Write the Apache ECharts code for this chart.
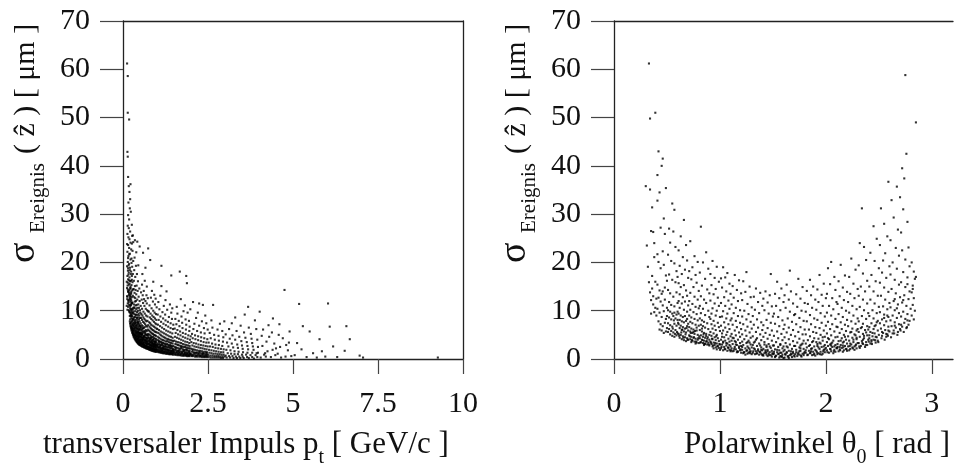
<!DOCTYPE html>
<html><head><meta charset="utf-8">
<script src="https://cdn.jsdelivr.net/npm/echarts@6/dist/echarts.min.js"></script>
<style>html,body{margin:0;padding:0;background:#fff}#c{width:954px;height:469px}</style>
</head><body><div id="c"></div>
<script>
// ---------- tick values ----------
const sigmaTicks = [0,10,20,30,40,50,60,70];
const ptTicks = [0,2.5,5,7.5,10];
const thetaTicks = [0,1,2,3];

// ---------- left panel: [pt (GeV/c), sigma (um)] ----------
const ptSigmaSteep = [
[0.12,61.2],[0.14,58.6],[0.14,51.0],[0.18,49.6],[0.13,42.9],[0.14,41.9],[0.15,37.7],[0.22,36.2],[0.19,34.6],[0.17,35.8],[0.21,33.1],[0.16,32.4],[0.2,31.2],[0.15,29.8],[0.18,28.9],[0.23,30.5],[0.14,27.6],[0.17,27.1],[0.21,26.4],[0.26,27.8],[0.13,25.9],[0.16,25.2],[0.19,24.8],[0.22,24.1],[0.27,25.5],[0.15,23.6],[0.18,23.0],[0.24,22.7],[0.13,22.2],[0.2,21.8],[0.16,21.3],[0.22,20.6],[0.14,20.1],[0.18,19.7],[0.25,19.9],[0.12,19.2],[0.15,18.8],[0.2,18.4],[0.17,17.9],[0.23,17.6],[0.13,17.2],[0.19,16.9],[0.15,16.5],[0.21,16.1],[0.26,16.4],[0.14,15.8],[0.17,15.4],[0.22,15.0],[0.12,14.7],[0.19,14.3],[0.15,13.9],[0.24,13.6],[0.17,13.2],[0.13,12.9],[0.2,12.6],[0.16,12.2],[0.22,11.9],[0.14,11.5],[0.18,11.2],[0.25,11.4],[0.15,10.8],[0.21,10.5],[0.17,10.1],[0.19,9.7],[0.23,9.4],[0.16,12.0],[0.18,13.5],[0.11,16.0],[0.12,13.0],[0.11,11.0],[0.13,10.2],[0.14,14.4],[0.16,17.5],[0.12,23.8],[0.15,20.9],
[0.21,8.2],[0.22,6.9],[0.23,7.5],[0.24,6.3],[0.25,5.9],[0.26,6.6],[0.27,5.5],[0.28,5.8],[0.29,5.1],[0.21,9.6],[0.23,8.8],[0.25,7.7],[0.27,7.1],[0.29,6.4],[0.22,11.2],[0.24,10.1],[0.26,9.2],[0.28,8.3],[0.3,7.4],[0.21,13.1],[0.23,12.4],[0.25,11.6],[0.27,10.4],[0.29,9.5],[0.22,14.6],[0.24,13.9],[0.26,12.8],[0.28,11.7],[0.3,10.6],[0.23,16.2],[0.25,15.3],[0.27,14.2],[0.29,13.1],[0.24,18.1],[0.26,17.2],[0.28,15.9],[0.3,14.4],[0.25,20.8],[0.27,19.1],[0.29,17.6],[0.28,22.4],[0.3,20.3],[0.26,23.9],[0.29,25.6],[0.3,24.2],
[0.2,7.8],[0.22,7.2],[0.24,6.8],[0.25,6.4],[0.26,6.1],[0.28,5.4],[0.3,5.0],[0.2,8.9],[0.21,7.4],[0.23,6.6],[0.27,6.2],[0.29,5.7],[0.3,6.0],
[0.155,14.1],[0.165,11.7],[0.175,16.3],[0.185,9.9],[0.195,12.3],[0.205,10.9],[0.215,14.7],[0.225,9.1],[0.235,11.1],[0.245,8.4],[0.255,9.8],[0.265,7.9],[0.275,8.8],[0.285,7.2],[0.295,8.1],[0.145,18.3],[0.135,15.2],[0.125,12.4],[0.165,19.4],[0.175,13.8],[0.185,21.7],[0.195,15.6],[0.205,18.9],[0.215,12.9],[0.225,13.4],[0.235,10.3],[0.245,12.1],[0.255,8.9],[0.265,11.6],[0.275,9.6],[0.285,10.2],[0.295,6.9]
];
const ptSigmaLow = [
[0.31,4.7],[0.32,4.5],[0.33,4.9],[0.34,4.3],[0.35,4.1],[0.36,4.4],[0.37,3.9],[0.38,3.8],[0.39,4.0],[0.4,3.6],[0.41,3.5],[0.42,3.7],[0.43,3.3],[0.44,3.4],[0.45,3.2],[0.46,3.1],[0.47,3.3],[0.48,3.0],[0.49,2.9],[0.5,3.0],
[0.31,5.4],[0.33,5.8],[0.35,5.0],[0.37,4.8],[0.39,4.6],[0.41,4.2],[0.43,4.1],[0.45,3.9],[0.47,3.8],[0.49,3.6],
[0.32,6.3],[0.34,6.7],[0.36,5.6],[0.38,5.3],[0.4,5.1],[0.42,4.8],[0.44,4.6],[0.46,4.4],[0.48,4.2],[0.5,3.9],
[0.31,7.6],[0.33,7.1],[0.35,6.4],[0.37,6.0],[0.39,5.8],[0.41,5.5],[0.43,5.2],[0.45,5.0],[0.47,4.9],[0.49,4.7],
[0.32,8.6],[0.34,8.0],[0.36,7.4],[0.38,6.9],[0.4,6.5],[0.42,6.2],[0.44,5.9],[0.46,5.6],[0.48,5.4],[0.5,5.2],
[0.31,9.8],[0.33,9.3],[0.35,8.7],[0.37,8.1],[0.39,7.6],[0.41,7.2],[0.43,6.9],[0.45,6.6],[0.47,6.3],[0.49,6.0],
[0.32,11.3],[0.34,10.5],[0.36,9.9],[0.38,9.2],[0.4,8.6],[0.42,8.1],[0.44,7.7],[0.46,7.3],[0.48,7.0],[0.5,6.8],
[0.33,12.8],[0.35,11.9],[0.37,11.1],[0.39,10.3],[0.41,9.7],[0.43,9.1],[0.45,8.6],[0.47,8.2],[0.49,7.8],
[0.31,14.5],[0.34,13.7],[0.36,12.6],[0.38,12.0],[0.4,11.2],[0.42,10.6],[0.44,10.0],[0.46,9.4],[0.48,9.0],[0.5,8.5],
[0.32,16.2],[0.35,15.1],[0.37,14.3],[0.39,13.4],[0.42,12.3],[0.45,11.3],[0.47,10.6],[0.5,10.1],
[0.33,18.4],[0.36,17.0],[0.4,15.2],[0.43,14.1],[0.46,12.9],[0.49,12.0],
[0.34,21.0],[0.38,19.3],[0.41,17.6],[0.44,16.1],[0.48,14.6],
[0.35,24.6],[0.39,22.1],[0.45,19.4],[0.49,23.3],[0.42,24.3],
[0.305,5.2],[0.315,6.8],[0.325,4.8],[0.335,6.1],[0.345,5.3],[0.355,7.7],[0.365,4.9],[0.375,6.5],[0.385,4.4],[0.395,5.5],[0.405,4.7],[0.415,6.3],[0.425,4.0],[0.435,5.6],[0.445,4.3],[0.455,5.3],[0.465,3.7],[0.475,4.6],[0.485,3.5],[0.495,5.4],[0.505,3.6],[0.515,4.1],[0.525,3.2],[0.535,4.5],[0.545,3.5],[0.555,5.0],[0.565,3.0],[0.575,3.9],[0.585,3.3],[0.595,4.4],[0.31,8.3],[0.33,10.7],[0.35,7.3],[0.37,9.1],[0.39,6.9],[0.41,8.5],[0.43,7.6],[0.45,7.4],[0.47,6.1],[0.49,6.9],[0.51,5.1],[0.53,6.6],[0.55,5.5],[0.57,4.0],[0.59,6.4],
[0.52,2.8],[0.54,2.7],[0.56,2.6],[0.58,2.6],[0.6,2.5],[0.62,2.4],[0.64,2.4],[0.66,2.3],[0.68,2.2],[0.7,2.2],[0.72,2.1],[0.74,2.1],
[0.51,3.3],[0.53,3.4],[0.55,3.1],[0.57,3.2],[0.59,3.0],[0.61,2.9],[0.63,3.0],[0.65,2.8],[0.67,2.7],[0.69,2.8],[0.71,2.6],[0.73,2.5],
[0.52,3.9],[0.54,4.1],[0.56,3.7],[0.58,3.8],[0.6,3.5],[0.62,3.4],[0.64,3.6],[0.66,3.3],[0.68,3.2],[0.7,3.1],[0.72,3.0],[0.74,3.2],
[0.51,4.6],[0.53,4.8],[0.55,4.4],[0.57,4.5],[0.59,4.2],[0.61,4.0],[0.63,4.3],[0.65,3.9],[0.67,3.8],[0.69,3.7],[0.71,3.6],[0.73,3.8],
[0.52,5.5],[0.54,5.2],[0.56,5.1],[0.58,5.3],[0.6,4.8],[0.62,4.7],[0.64,4.9],[0.66,4.5],[0.68,4.4],[0.7,4.3],[0.72,4.2],[0.74,4.5],
[0.51,6.4],[0.53,6.1],[0.55,5.9],[0.57,6.2],[0.59,5.7],[0.61,5.5],[0.63,5.8],[0.65,5.3],[0.67,5.1],[0.69,5.0],[0.71,4.9],[0.73,5.2],
[0.52,7.4],[0.55,7.0],[0.58,6.8],[0.61,6.4],[0.64,6.6],[0.67,6.0],[0.7,5.8],[0.73,6.1],
[0.53,8.5],[0.56,8.1],[0.59,7.7],[0.62,7.5],[0.65,7.2],[0.68,6.9],[0.71,6.7],[0.74,7.0],
[0.51,9.6],[0.54,9.3],[0.57,9.0],[0.6,8.6],[0.63,8.3],[0.66,8.0],[0.69,7.8],[0.72,7.9],
[0.52,11.0],[0.56,10.4],[0.6,9.8],[0.64,9.4],[0.68,9.0],[0.72,8.8],
[0.55,12.3],[0.59,11.6],[0.63,11.0],[0.67,10.4],[0.71,10.1],[0.74,9.9],
[0.53,13.8],[0.58,13.2],[0.62,12.4],[0.66,12.0],[0.7,11.5],
[0.56,15.4],[0.61,14.1],[0.69,13.2],[0.73,12.6],
[0.57,17.6],[0.64,16.2],[0.66,18.9],[0.59,22.0],[0.74,22.9],[0.7,15.0],
[0.76,2.0],[0.78,1.9],[0.8,1.9],[0.82,1.8],[0.84,1.8],[0.86,1.7],[0.88,1.7],[0.9,1.6],[0.92,1.6],[0.94,1.6],[0.96,1.5],[0.98,1.5],
[0.77,2.5],[0.79,2.4],[0.81,2.3],[0.83,2.4],[0.85,2.2],[0.87,2.1],[0.89,2.3],[0.91,2.0],[0.93,2.1],[0.95,1.9],[0.97,2.0],[0.99,1.9],
[0.76,3.1],[0.78,2.9],[0.8,2.8],[0.82,3.0],[0.84,2.7],[0.86,2.6],[0.88,2.8],[0.9,2.5],[0.92,2.6],[0.94,2.4],[0.96,2.5],[0.98,2.3],
[0.77,3.7],[0.79,3.5],[0.81,3.4],[0.83,3.6],[0.85,3.2],[0.87,3.3],[0.89,3.1],[0.91,3.0],[0.93,3.2],[0.95,2.9],[0.97,3.0],[0.99,2.8],
[0.76,4.4],[0.78,4.2],[0.8,4.0],[0.82,4.3],[0.84,3.9],[0.86,3.8],[0.88,4.0],[0.9,3.6],[0.92,3.7],[0.94,3.5],[0.96,3.6],[0.98,3.4],
[0.77,5.1],[0.8,4.9],[0.83,4.7],[0.86,4.5],[0.89,4.6],[0.92,4.3],[0.95,4.2],[0.98,4.1],
[0.76,5.9],[0.79,5.7],[0.82,5.5],[0.85,5.3],[0.88,5.2],[0.91,5.0],[0.94,4.9],[0.97,4.8],
[0.78,6.7],[0.81,6.4],[0.84,6.2],[0.87,6.0],[0.9,5.9],[0.93,5.7],[0.96,5.6],[0.99,5.5],
[0.77,7.6],[0.8,7.4],[0.83,7.1],[0.87,6.9],[0.91,6.7],[0.95,6.5],[0.99,6.3],
[0.79,8.6],[0.83,8.3],[0.87,8.0],[0.91,7.7],[0.95,7.4],[0.98,7.2],
[0.76,9.8],[0.81,9.4],[0.86,9.0],[0.9,8.7],[0.94,8.4],[0.98,8.1],
[0.78,11.1],[0.84,10.5],[0.89,10.0],[0.93,9.6],[0.97,9.3],
[0.8,20.5],[0.82,12.7],[0.88,11.9],[0.94,11.3],[0.99,10.7],
[0.85,14.1],[0.92,13.3],[0.96,12.5],[0.89,16.0],
[0.605,3.1],[0.625,2.7],[0.645,3.9],[0.665,2.6],[0.685,3.5],[0.705,2.5],[0.725,3.4],[0.745,2.6],[0.765,2.3],[0.785,3.2],[0.805,2.2],[0.825,2.8],[0.845,2.1],[0.865,3.0],[0.885,2.0],[0.905,2.7],[0.925,1.9],[0.945,2.8],[0.965,1.8],[0.985,2.6],[0.615,4.6],[0.655,5.6],[0.695,4.1],[0.735,4.9],[0.775,3.9],[0.815,4.4],[0.855,3.5],[0.895,4.1],[0.935,3.2],[0.975,3.8]
];
const ptSigmaMid = [
[1.02,1.5],[1.05,1.4],[1.08,1.4],[1.11,1.3],[1.14,1.3],[1.17,1.2],[1.2,1.2],[1.23,1.2],[1.26,1.1],[1.29,1.1],[1.32,1.1],[1.35,1.0],[1.38,1.0],[1.41,1.0],[1.44,1.0],[1.47,0.9],
[1.01,2.0],[1.04,1.9],[1.07,1.8],[1.1,1.8],[1.13,1.7],[1.16,1.7],[1.19,1.6],[1.22,1.6],[1.25,1.5],[1.28,1.5],[1.31,1.4],[1.34,1.4],[1.37,1.4],[1.4,1.3],[1.43,1.3],[1.46,1.3],[1.49,1.2],
[1.02,2.6],[1.05,2.4],[1.08,2.5],[1.11,2.3],[1.14,2.2],[1.17,2.3],[1.2,2.1],[1.23,2.0],[1.26,2.1],[1.29,1.9],[1.32,1.9],[1.35,1.8],[1.38,1.8],[1.41,1.7],[1.44,1.7],[1.47,1.6],
[1.01,3.2],[1.04,3.0],[1.07,3.1],[1.1,2.9],[1.13,2.8],[1.16,2.9],[1.19,2.7],[1.22,2.6],[1.25,2.7],[1.28,2.5],[1.31,2.4],[1.34,2.5],[1.37,2.3],[1.4,2.2],[1.43,2.3],[1.46,2.1],[1.49,2.0],
[1.03,3.9],[1.06,3.7],[1.09,3.6],[1.12,3.5],[1.15,3.4],[1.18,3.3],[1.21,3.2],[1.24,3.1],[1.27,3.0],[1.3,3.1],[1.33,2.9],[1.36,2.8],[1.39,2.9],[1.42,2.7],[1.45,2.6],[1.48,2.7],
[1.02,4.6],[1.06,4.4],[1.1,4.2],[1.14,4.0],[1.18,3.9],[1.22,3.8],[1.26,3.6],[1.3,3.7],[1.34,3.5],[1.38,3.4],[1.42,3.3],[1.46,3.2],
[1.04,5.4],[1.08,5.1],[1.12,4.9],[1.16,4.7],[1.2,4.5],[1.24,4.4],[1.28,4.2],[1.32,4.1],[1.36,4.0],[1.4,3.9],[1.44,3.8],[1.48,3.7],
[1.01,6.2],[1.06,6.0],[1.11,5.7],[1.16,5.5],[1.21,5.3],[1.26,5.1],[1.31,4.9],[1.36,4.7],[1.41,4.6],[1.46,4.4],
[1.03,7.1],[1.09,6.8],[1.15,6.5],[1.21,6.2],[1.27,5.9],[1.33,5.7],[1.39,5.5],[1.45,5.3],
[1.05,8.1],[1.12,7.7],[1.19,7.3],[1.26,7.0],[1.33,6.7],[1.4,6.4],[1.47,6.2],
[1.02,9.2],[1.1,8.8],[1.18,8.4],[1.25,8.0],[1.32,7.7],[1.4,7.4],[1.48,7.1],
[1.07,10.3],[1.16,9.7],[1.24,9.2],[1.35,8.7],[1.44,8.3],
[1.13,19.3],[1.13,15.1],[1.04,11.8],[1.2,11.0],[1.3,10.2],[1.42,9.6],
[1.1,13.1],[1.25,12.2],[1.38,11.3],[1.45,10.5],[1.42,17.3],[1.28,14.0],
[1.005,1.7],[1.025,2.4],[1.045,1.6],[1.065,2.2],[1.085,1.5],[1.105,2.1],[1.125,1.5],[1.145,1.9],[1.165,1.4],[1.185,2.0],[1.015,2.9],[1.055,3.5],[1.095,2.7],[1.135,3.1],[1.175,2.4],
[1.215,1.4],[1.255,1.8],[1.295,1.3],[1.335,1.7],[1.375,1.2],[1.415,1.5],[1.455,1.1],[1.495,1.6],[1.535,1.0],[1.575,1.5],[1.615,1.0],[1.655,1.4],[1.695,0.9],[1.735,1.3],[1.775,0.8],[1.815,1.2],[1.855,0.8],[1.895,1.1],[1.935,0.7],[1.975,1.0],[2.035,0.7],[2.095,1.2],[2.155,0.6],[2.215,1.1],[2.275,0.6],[2.335,0.9],[2.395,0.5],[2.455,0.8],[1.23,2.4],[1.31,2.0],[1.39,2.6],[1.47,1.9],[1.55,2.2],[1.63,1.6],[1.71,2.4],[1.79,1.7],[1.87,2.0],[1.95,1.5],[2.05,1.8],[2.15,1.3],[2.25,1.5],[2.35,1.2],[2.45,1.3],
[1.52,0.9],[1.56,0.9],[1.6,0.8],[1.64,0.8],[1.68,0.8],[1.72,0.7],[1.76,0.7],[1.8,0.7],[1.84,0.7],[1.88,0.6],[1.92,0.6],[1.96,0.6],
[1.51,1.4],[1.55,1.3],[1.59,1.3],[1.63,1.2],[1.67,1.2],[1.71,1.1],[1.75,1.1],[1.79,1.0],[1.83,1.0],[1.87,1.0],[1.91,0.9],[1.95,0.9],[1.99,0.9],
[1.53,1.9],[1.57,1.8],[1.61,1.7],[1.65,1.8],[1.69,1.6],[1.73,1.5],[1.77,1.6],[1.81,1.4],[1.85,1.4],[1.89,1.3],[1.93,1.3],[1.97,1.2],
[1.52,2.5],[1.56,2.4],[1.6,2.3],[1.64,2.2],[1.68,2.1],[1.72,2.2],[1.76,2.0],[1.8,1.9],[1.84,1.9],[1.88,1.8],[1.92,1.7],[1.96,1.7],
[1.54,3.1],[1.58,3.0],[1.62,2.9],[1.66,2.8],[1.7,2.7],[1.74,2.6],[1.78,2.5],[1.82,2.5],[1.86,2.4],[1.9,2.3],[1.94,2.2],[1.98,2.2],
[1.51,3.8],[1.56,3.6],[1.61,3.5],[1.66,3.4],[1.71,3.3],[1.76,3.1],[1.81,3.0],[1.86,2.9],[1.91,2.8],[1.96,2.7],
[1.53,4.6],[1.59,4.4],[1.65,4.2],[1.71,4.0],[1.77,3.8],[1.83,3.6],[1.89,3.5],[1.95,3.3],
[1.55,5.4],[1.62,5.1],[1.69,4.9],[1.76,4.6],[1.83,4.4],[1.9,4.2],[1.97,4.0],
[1.52,6.3],[1.6,6.0],[1.68,5.7],[1.76,5.4],[1.84,5.2],[1.92,4.9],[1.99,4.7],
[1.57,7.2],[1.66,6.8],[1.75,6.4],[1.85,6.1],[1.95,5.8],
[1.54,8.3],[1.64,7.9],[1.74,7.5],[1.86,7.1],[1.96,6.7],
[1.6,9.4],[1.72,8.8],[1.84,8.2],[1.94,7.9],
[1.67,18.1],[1.86,17.2],[1.88,15.7],[1.58,10.8],[1.78,9.9],[1.9,9.6],[1.7,12.4],[1.82,11.1],[1.98,10.3],
[2.02,0.6],[2.07,0.6],[2.12,0.5],[2.17,0.5],[2.22,0.5],[2.27,0.5],[2.32,0.4],[2.37,0.4],[2.42,0.4],[2.47,0.4],
[2.01,1.0],[2.06,0.9],[2.11,0.9],[2.16,0.8],[2.21,0.8],[2.26,0.8],[2.31,0.7],[2.36,0.7],[2.41,0.7],[2.46,0.6],
[2.03,1.5],[2.08,1.4],[2.13,1.3],[2.18,1.3],[2.23,1.2],[2.28,1.2],[2.33,1.1],[2.38,1.1],[2.43,1.0],[2.48,1.0],
[2.02,2.1],[2.07,2.0],[2.12,1.9],[2.17,1.8],[2.22,1.7],[2.27,1.7],[2.32,1.6],[2.37,1.5],[2.42,1.5],[2.47,1.4],
[2.04,2.8],[2.1,2.6],[2.16,2.5],[2.22,2.4],[2.28,2.3],[2.34,2.2],[2.4,2.1],[2.46,2.0],
[2.01,3.5],[2.08,3.3],[2.15,3.2],[2.22,3.0],[2.29,2.9],[2.36,2.8],[2.43,2.7],[2.49,2.6],
[2.05,4.3],[2.13,4.1],[2.21,3.9],[2.29,3.7],[2.37,3.5],[2.45,3.4],
[2.03,5.2],[2.12,4.9],[2.21,4.7],[2.3,4.5],[2.39,4.3],[2.48,4.1],
[2.07,6.2],[2.18,5.8],[2.29,5.5],[2.4,5.3],
[2.1,7.3],[2.24,6.9],[2.38,6.4],[2.49,6.1],
[2.15,8.5],[2.32,7.8],[2.45,7.4],
[2.06,11.8],[2.24,11.5],[2.35,11.2],[2.2,9.6],[2.42,9.0],
[2.52,0.4],[2.58,0.3],[2.64,0.3],[2.7,0.3],[2.76,0.3],[2.82,0.3],[2.88,0.2],[2.94,0.2],
[2.51,0.8],[2.57,0.7],[2.63,0.7],[2.69,0.6],[2.75,0.6],[2.81,0.6],[2.87,0.5],[2.93,0.5],[2.99,0.5],
[2.54,1.3],[2.6,1.2],[2.66,1.1],[2.72,1.1],[2.78,1.0],[2.84,1.0],[2.9,0.9],[2.96,0.9],
[2.53,1.9],[2.6,1.8],[2.67,1.7],[2.74,1.6],[2.81,1.5],[2.88,1.4],[2.95,1.4],
[2.56,2.6],[2.64,2.5],[2.72,2.3],[2.8,2.2],[2.88,2.1],[2.96,2.0],
[2.52,3.4],[2.62,3.2],[2.72,3.0],[2.82,2.9],[2.92,2.7],
[2.58,4.3],[2.7,4.0],[2.82,3.8],[2.94,3.6],
[2.55,5.4],[2.68,5.0],[2.81,4.8],[2.95,4.5],
[2.63,6.5],[2.78,6.1],[2.92,5.8],
[2.65,11.2],[2.6,8.0],[2.85,7.3],[2.98,7.8]
];
const ptSigmaHigh = [
[3.05,0.3],[3.15,0.3],[3.25,0.2],[3.35,0.2],[3.45,0.2],[3.55,0.2],[3.7,0.2],[3.85,0.1],
[3.02,0.7],[3.12,0.6],[3.22,0.6],[3.32,0.5],[3.42,0.5],[3.52,0.5],[3.65,0.4],[3.8,0.4],[3.95,0.4],
[3.08,1.2],[3.18,1.1],[3.28,1.0],[3.38,1.0],[3.5,0.9],[3.62,0.9],[3.75,0.8],[3.9,0.8],
[3.04,1.9],[3.16,1.8],[3.28,1.6],[3.4,1.5],[3.53,1.4],[3.66,1.3],[3.8,1.3],[3.93,1.2],
[3.1,2.6],[3.24,2.4],[3.38,2.3],[3.52,2.1],[3.68,2.0],[3.84,1.9],
[3.06,3.4],[3.2,3.2],[3.36,3.0],[3.5,2.8],[3.66,2.7],[3.82,2.6],[3.97,2.5],
[3.14,4.2],[3.3,4.0],[3.48,3.7],[3.64,3.5],[3.8,3.3],
[3.02,5.1],[3.22,4.9],[3.42,4.6],[3.6,4.4],[3.78,4.2],[3.95,4.0],
[3.12,6.2],[3.34,5.8],[3.56,5.5],[3.76,5.2],
[3.2,7.4],[3.46,6.9],[3.7,6.5],[3.92,6.2],
[3.3,8.6],[3.68,10.8],[3.58,9.2],[3.88,8.0],[3.97,1.3],
[4.02,9.8],[4.41,8.4],[4.6,7.2],[4.75,14.3],[4.9,5.7],[4.8,2.9],[4.5,2.2],[4.2,0.5],
[4.05,0.3],[4.15,0.9],[4.25,1.6],[4.35,0.4],[4.45,3.2],[4.55,1.1],[4.65,0.3],[4.7,4.3],[4.85,1.8],[4.95,0.6],
[4.1,2.7],[4.3,4.6],[4.12,6.1],[4.38,5.5],[4.62,2.5],[4.22,3.6],[4.48,0.8],[4.78,0.5],[4.08,4.8],[4.28,7.0],
[4.18,1.2],[4.58,5.0],[4.88,3.4],[4.4,1.9],
[5.18,11.4],[6.03,11.5],[5.29,6.8],[6.08,6.7],[6.57,6.8],[5.49,5.7],[5.78,4.1],[6.67,4.1],[6.18,2.6],[6.52,1.7],[6.96,0.7],[7.06,0.3],[9.26,0.3],[5.59,1.2],[5.25,2.0],[5.05,0.8],[5.4,0.4],[5.7,0.3],[5.95,0.5],[5.12,3.3],[5.85,1.6],[6.3,0.4]
];

// ---------- right panel: [theta0 (rad), sigma (um)] ----------
const thetaSigmaForward = [
[0.30,35.8],[0.34,35.1],[0.33,61.2],[0.39,51.0],[0.34,49.8],[0.36,31.4],[0.31,23.5],[0.32,19.1],[0.35,26.5],[0.37,26.3],[0.38,24.0],[0.36,14.6],[0.34,13.8],[0.35,12.2],[0.37,11.3],[0.38,9.7],[0.39,10.6],[0.36,17.2],[0.33,15.9],[0.38,21.1],[0.35,9.4],[0.37,13.0],[0.39,16.0],[0.4,12.5],[0.4,9.0],
[0.42,43.0],[0.46,41.5],[0.45,40.0],[0.41,38.1],[0.49,35.4],[0.41,32.8],[0.43,34.5],[0.47,29.1],[0.44,27.2],[0.48,25.9],[0.46,22.3],[0.42,20.1],[0.44,18.8],[0.47,19.5],[0.49,17.3],[0.41,15.4],[0.43,14.2],[0.45,13.5],[0.48,14.8],[0.5,16.2],[0.42,12.7],[0.44,11.9],[0.46,11.1],[0.48,12.3],[0.5,10.6],[0.41,10.4],[0.43,9.6],[0.45,8.7],[0.47,9.9],[0.49,8.3],[0.42,7.8],[0.44,7.2],[0.46,6.8],[0.48,7.5],[0.5,6.4],[0.43,6.1],[0.45,5.9],[0.47,5.4],[0.49,5.7],[0.5,8.9],[0.46,14.0],[0.41,21.7],
[0.55,32.2],[0.57,30.9],[0.52,27.0],[0.56,26.4],[0.53,24.1],[0.58,23.2],[0.51,21.6],[0.54,20.3],[0.57,19.8],[0.59,18.2],[0.52,17.5],[0.55,16.4],[0.58,15.9],[0.6,17.0],[0.51,14.3],[0.53,13.6],[0.56,12.9],[0.59,13.8],[0.52,11.8],[0.54,11.2],[0.57,10.9],[0.6,11.6],[0.51,10.1],[0.53,9.8],[0.55,9.4],[0.57,9.6],[0.59,9.2],[0.6,9.8],[0.52,8.6],[0.54,8.2],[0.56,8.9],[0.58,8.4],[0.6,8.1],[0.51,7.4],[0.53,7.0],[0.55,6.7],[0.57,7.3],[0.59,6.9],[0.52,6.2],[0.54,5.8],[0.56,5.5],[0.58,6.0],[0.6,5.3],[0.53,5.1],[0.55,4.8],[0.57,4.6],[0.59,4.9],[0.51,5.6],
[0.66,28.8],[0.63,25.4],[0.68,23.6],[0.61,22.5],[0.65,21.1],[0.69,20.4],[0.62,19.3],[0.67,18.5],[0.64,17.6],[0.7,16.8],[0.61,15.7],[0.63,14.9],[0.66,15.3],[0.68,14.2],[0.62,13.4],[0.65,12.8],[0.69,13.1],[0.61,12.0],[0.64,11.5],[0.67,11.9],[0.7,11.1],[0.62,10.6],[0.66,10.2],[0.69,9.8],[0.61,9.4],[0.63,9.0],[0.65,8.7],[0.67,8.9],[0.69,8.3],[0.62,8.1],[0.64,7.8],[0.66,7.6],[0.68,7.9],[0.7,7.3],[0.61,7.2],[0.63,6.9],[0.65,6.6],[0.67,6.3],[0.69,6.8],[0.62,6.4],[0.64,6.0],[0.66,5.7],[0.68,5.5],[0.7,5.9],[0.61,5.2],[0.63,5.0],[0.65,4.7],[0.67,4.5],[0.69,4.3],[0.62,4.4],[0.64,4.1],[0.66,3.9],[0.68,3.7],[0.7,4.0],
[0.72,24.4],[0.76,21.3],[0.79,20.1],[0.74,19.0],[0.71,18.2],[0.77,17.4],[0.73,16.5],[0.78,15.8],[0.75,14.9],[0.8,14.1],[0.72,13.7],[0.76,12.9],[0.79,12.3],[0.71,12.0],[0.74,11.4],[0.77,10.8],[0.8,10.5],[0.72,10.2],[0.75,9.7],[0.78,9.3],[0.71,9.0],[0.73,8.6],[0.76,8.3],[0.79,8.0],[0.72,7.7],[0.74,7.4],[0.77,7.1],[0.8,6.9],[0.71,6.6],[0.73,6.3],[0.75,6.1],[0.78,5.9],[0.72,5.7],[0.74,5.4],[0.76,5.2],[0.79,5.0],[0.71,4.9],[0.73,4.6],[0.75,4.4],[0.77,4.2],[0.79,4.0],[0.72,4.1],[0.74,3.8],[0.76,3.6],[0.78,3.4],[0.8,3.3],[0.73,3.5],[0.77,3.2],[0.75,5.6],[0.78,6.5],
[0.82,27.4],[0.87,22.1],[0.84,20.0],[0.89,18.7],[0.81,17.9],[0.86,16.6],[0.83,15.2],[0.88,14.4],[0.9,13.6],[0.82,13.0],[0.85,12.3],[0.87,11.6],[0.81,11.0],[0.84,10.4],[0.89,10.0],[0.82,9.5],[0.86,9.1],[0.9,8.7],[0.81,8.4],[0.83,8.0],[0.85,7.7],[0.88,7.4],[0.82,7.1],[0.84,6.8],[0.86,6.5],[0.89,6.2],[0.81,6.0],[0.83,5.7],[0.85,5.4],[0.87,5.2],[0.9,5.0],[0.82,4.9],[0.84,4.6],[0.86,4.4],[0.88,4.2],[0.9,4.0],[0.81,4.3],[0.83,4.0],[0.85,3.8],[0.87,3.6],[0.89,3.4],[0.82,3.5],[0.84,3.3],[0.86,3.1],[0.88,3.0],[0.9,2.8],[0.85,2.9],[0.87,4.8],[0.83,6.3],
[0.93,20.3],[0.97,19.1],[0.91,17.6],[0.95,16.8],[0.99,16.0],[0.92,15.3],[0.96,14.5],[0.94,13.4],[0.98,12.7],[0.91,12.1],[0.95,11.5],[0.99,11.0],[0.93,10.5],[0.97,10.0],[0.92,9.4],[0.96,9.0],[1.0,8.7],[0.91,8.3],[0.94,7.9],[0.98,7.5],[0.92,7.2],[0.95,6.9],[0.99,6.6],[0.93,6.3],[0.96,6.0],[1.0,5.8],[0.91,5.6],[0.94,5.3],[0.97,5.0],[0.92,4.8],[0.95,4.5],[0.98,4.3],[0.93,4.1],[0.96,3.9],[0.99,3.7],[0.91,3.6],[0.94,3.4],[0.97,3.2],[1.0,3.0],[0.92,3.1],[0.95,2.9],[0.98,2.7],[0.93,2.6],[0.96,2.4],[0.99,2.3],[0.94,2.2],[0.97,2.0],[1.0,1.9],
[0.555,6.3],[0.575,5.2],[0.595,5.6],[0.615,4.8],[0.635,5.5],[0.655,4.4],[0.675,5.1],[0.695,4.0],[0.715,4.7],[0.735,3.9],[0.755,4.5],[0.775,3.6],[0.795,4.3],[0.815,3.4],[0.835,3.9],[0.855,3.2],[0.875,3.7],[0.895,3.0],[0.915,3.4],[0.935,2.8],[0.955,3.3],[0.975,2.6],[0.995,3.1],[0.565,8.0],[0.605,7.5],[0.645,6.1],[0.685,6.4],[0.725,5.4],[0.765,5.8],[0.805,4.7],[0.845,5.1],[0.885,4.5],[0.925,4.2],[0.965,4.7]
];
const thetaSigmaCentral = [
[1.03,19.0],[1.07,17.8],[1.01,16.7],[1.05,16.9],[1.09,15.6],[1.02,14.8],[1.06,14.0],[1.1,13.5],[1.04,12.8],[1.08,12.1],[1.01,11.6],[1.05,11.0],[1.09,10.4],[1.03,9.9],[1.07,9.4],[1.02,8.8],[1.06,8.4],[1.1,8.0],[1.04,7.6],[1.08,7.2],[1.01,6.9],[1.05,6.5],[1.09,6.2],[1.03,5.9],[1.07,5.6],[1.02,5.3],[1.06,5.0],[1.1,4.7],[1.04,4.5],[1.08,4.2],[1.01,4.0],[1.05,3.8],[1.09,3.6],[1.03,3.4],[1.07,3.2],[1.02,3.0],[1.06,2.8],[1.1,2.6],[1.04,2.5],[1.08,2.3],[1.01,2.2],[1.05,2.0],[1.09,1.9],[1.03,1.8],[1.07,1.7],[1.1,1.6],[1.06,3.3],[1.02,4.6],
[1.14,17.4],[1.18,16.3],[1.12,15.1],[1.16,14.3],[1.2,13.6],[1.13,12.7],[1.17,12.0],[1.11,11.3],[1.15,10.6],[1.19,10.1],[1.13,9.5],[1.17,8.9],[1.11,8.4],[1.15,7.9],[1.19,7.5],[1.12,7.1],[1.16,6.6],[1.2,6.2],[1.14,5.9],[1.18,5.5],[1.11,5.2],[1.15,4.9],[1.19,4.6],[1.13,4.3],[1.17,4.0],[1.11,3.8],[1.15,3.5],[1.19,3.3],[1.12,3.1],[1.16,2.9],[1.2,2.7],[1.14,2.5],[1.18,2.3],[1.11,2.2],[1.15,2.0],[1.19,1.8],[1.13,1.7],[1.17,1.5],[1.12,1.6],[1.16,1.4],[1.2,1.3],[1.14,3.7],[1.18,2.6],
[1.25,18.0],[1.22,16.1],[1.28,15.0],[1.24,13.9],[1.29,12.8],[1.21,12.2],[1.26,11.4],[1.3,10.7],[1.23,10.0],[1.27,9.3],[1.21,8.8],[1.25,8.2],[1.29,7.7],[1.22,7.2],[1.26,6.7],[1.3,6.3],[1.24,5.9],[1.28,5.5],[1.21,5.1],[1.25,4.8],[1.29,4.4],[1.23,4.1],[1.27,3.8],[1.21,3.6],[1.25,3.3],[1.29,3.0],[1.22,2.9],[1.26,2.6],[1.3,2.4],[1.24,2.2],[1.28,2.0],[1.21,1.9],[1.25,1.7],[1.29,1.6],[1.23,1.4],[1.27,1.3],[1.22,1.2],[1.26,1.1],[1.3,1.0],[1.24,0.9],[1.28,1.5],[1.26,3.5],
[1.34,14.6],[1.38,13.7],[1.32,12.9],[1.36,11.8],[1.4,11.0],[1.33,10.2],[1.37,9.5],[1.31,8.9],[1.35,8.2],[1.39,7.6],[1.32,7.1],[1.36,6.5],[1.4,6.0],[1.34,5.6],[1.38,5.1],[1.31,4.7],[1.35,4.3],[1.39,3.9],[1.33,3.6],[1.37,3.2],[1.31,2.9],[1.35,2.7],[1.39,2.4],[1.32,2.2],[1.36,2.0],[1.4,1.8],[1.34,1.6],[1.38,1.5],[1.31,1.3],[1.35,1.2],[1.39,1.1],[1.33,1.0],[1.37,0.9],[1.4,0.8],[1.36,1.7],[1.32,3.4],[1.38,2.8],[1.34,4.0],
[1.48,17.6],[1.43,14.0],[1.47,13.2],[1.41,12.5],[1.45,11.7],[1.49,10.9],[1.42,10.1],[1.46,9.4],[1.5,8.8],[1.44,8.1],[1.48,7.5],[1.41,7.0],[1.45,6.4],[1.49,5.9],[1.43,5.4],[1.47,5.0],[1.41,4.6],[1.45,4.2],[1.49,3.8],[1.42,3.5],[1.46,3.1],[1.5,2.8],[1.44,2.5],[1.48,2.3],[1.41,2.1],[1.45,1.9],[1.49,1.7],[1.43,1.5],[1.47,1.4],[1.42,1.2],[1.46,1.1],[1.5,1.0],[1.44,0.9],[1.48,0.8],[1.41,0.7],[1.45,0.6],[1.49,0.5],[1.43,1.8],[1.47,2.6],[1.42,3.0],
[1.54,16.0],[1.58,14.6],[1.52,13.5],[1.56,12.6],[1.6,11.8],[1.53,11.0],[1.57,10.1],[1.51,9.4],[1.55,8.7],[1.59,8.0],[1.52,7.3],[1.56,6.8],[1.6,6.2],[1.54,5.7],[1.58,5.2],[1.51,4.8],[1.55,4.3],[1.59,3.9],[1.53,3.5],[1.57,3.1],[1.51,2.8],[1.55,2.5],[1.59,2.2],[1.52,2.0],[1.56,1.8],[1.6,1.6],[1.54,1.4],[1.58,1.3],[1.51,1.1],[1.55,1.0],[1.59,0.9],[1.53,0.7],[1.57,0.6],[1.52,0.4],[1.56,0.3],[1.6,0.2],[1.58,0.5],[1.54,1.9],[1.57,2.9],
[1.66,18.3],[1.63,15.4],[1.67,14.0],[1.61,13.2],[1.65,12.3],[1.69,11.5],[1.62,10.6],[1.66,9.8],[1.7,9.1],[1.64,8.4],[1.68,7.7],[1.61,7.1],[1.65,6.5],[1.69,6.0],[1.63,5.5],[1.67,5.0],[1.61,4.5],[1.65,4.1],[1.69,3.7],[1.62,3.3],[1.66,3.0],[1.7,2.7],[1.64,2.4],[1.68,2.1],[1.61,1.9],[1.65,1.7],[1.69,1.5],[1.63,1.3],[1.67,1.1],[1.62,0.9],[1.66,0.8],[1.7,0.7],[1.64,0.5],[1.68,0.4],[1.61,0.3],[1.65,0.2],[1.67,1.6],[1.63,2.6],
[1.74,16.6],[1.78,14.9],[1.72,13.4],[1.76,12.5],[1.8,11.6],[1.73,10.8],[1.77,10.0],[1.71,9.3],[1.75,8.5],[1.79,7.9],[1.72,7.2],[1.76,6.6],[1.8,6.1],[1.74,5.6],[1.78,5.1],[1.71,4.7],[1.75,4.2],[1.79,3.8],[1.73,3.4],[1.77,3.0],[1.71,2.7],[1.75,2.4],[1.79,2.1],[1.72,1.9],[1.76,1.7],[1.8,1.5],[1.74,1.3],[1.78,1.1],[1.71,1.0],[1.75,0.9],[1.79,0.8],[1.73,0.6],[1.77,0.5],[1.72,1.4],[1.76,2.2],[1.78,3.2],
[1.85,16.4],[1.88,15.0],[1.82,14.1],[1.86,13.2],[1.9,12.3],[1.83,11.4],[1.87,10.6],[1.81,9.8],[1.85,9.1],[1.89,8.4],[1.82,7.8],[1.86,7.2],[1.9,6.6],[1.84,6.1],[1.88,5.6],[1.81,5.1],[1.85,4.7],[1.89,4.3],[1.83,3.9],[1.87,3.5],[1.81,3.2],[1.85,2.9],[1.89,2.6],[1.82,2.4],[1.86,2.1],[1.9,1.9],[1.84,1.7],[1.88,1.5],[1.81,1.3],[1.85,1.2],[1.89,1.1],[1.83,0.9],[1.87,0.8],[1.9,0.7],[1.86,1.6],[1.84,2.7],[1.88,3.7],
[1.94,17.4],[1.98,15.6],[1.92,14.4],[1.96,13.3],[2.0,12.6],[1.93,11.8],[1.97,11.0],[1.91,10.2],[1.95,9.5],[1.99,8.8],[1.92,8.1],[1.96,7.5],[2.0,6.9],[1.94,6.4],[1.98,5.9],[1.91,5.4],[1.95,5.0],[1.99,4.6],[1.93,4.2],[1.97,3.8],[1.91,3.5],[1.95,3.2],[1.99,2.9],[1.92,2.7],[1.96,2.5],[2.0,2.3],[1.94,2.1],[1.98,1.9],[1.91,1.7],[1.95,1.5],[1.99,1.4],[1.93,1.2],[1.97,1.1],[1.92,1.0],[1.96,0.9],[1.98,2.6],[1.94,3.4],[1.97,4.5],
[1.015,2.5],[1.045,2.1],[1.075,2.4],[1.105,1.8],[1.135,2.1],[1.165,1.6],[1.195,2.0],[1.225,1.4],[1.255,1.8],[1.285,1.2],[1.315,1.6],[1.345,1.1],[1.375,1.4],[1.405,0.9],[1.435,1.3],[1.465,0.8],[1.495,1.2],[1.525,0.6],[1.555,1.1],[1.585,0.5],[1.615,1.0],[1.645,0.6],[1.675,0.9],[1.705,0.5],[1.735,1.0],[1.765,0.7],[1.795,1.2],[1.825,0.8],[1.855,1.3],[1.885,0.9],[1.915,1.4],[1.945,1.0],[1.975,1.6],[1.03,3.6],[1.09,2.9],[1.15,3.0],[1.21,2.5],[1.27,2.3],[1.33,2.0],[1.39,1.9],[1.45,1.6],[1.51,1.5],[1.57,1.3],[1.63,1.4],[1.69,1.2],[1.75,1.6],[1.81,1.8],[1.87,2.2],[1.93,2.4],[1.99,2.0],[1.12,4.4],[1.28,3.4],[1.44,2.8],[1.6,2.6],[1.76,2.8],[1.92,3.1]
];
const thetaSigmaBackward = [
[2.05,20.1],[2.02,18.8],[2.08,17.0],[2.04,15.5],[2.09,14.3],[2.01,13.5],[2.06,12.6],[2.1,11.8],[2.03,11.0],[2.07,10.3],[2.01,9.6],[2.05,9.0],[2.09,8.3],[2.02,7.7],[2.06,7.2],[2.1,6.7],[2.04,6.2],[2.08,5.7],[2.01,5.3],[2.05,4.9],[2.09,4.5],[2.03,4.1],[2.07,3.8],[2.01,3.5],[2.05,3.2],[2.09,2.9],[2.02,2.7],[2.06,2.5],[2.1,2.3],[2.04,2.1],[2.08,1.9],[2.01,1.8],[2.05,1.6],[2.09,1.5],[2.03,1.3],[2.07,1.2],[2.06,3.4],[2.02,4.3],[2.08,2.6],[2.04,3.0],
[2.14,19.5],[2.18,17.3],[2.12,16.1],[2.16,14.8],[2.2,13.9],[2.13,13.0],[2.17,12.2],[2.11,11.4],[2.15,10.6],[2.19,10.0],[2.12,9.3],[2.16,8.7],[2.2,8.1],[2.14,7.6],[2.18,7.1],[2.11,6.6],[2.15,6.2],[2.19,5.8],[2.13,5.4],[2.17,5.0],[2.11,4.6],[2.15,4.3],[2.19,4.0],[2.12,3.7],[2.16,3.4],[2.2,3.2],[2.14,2.9],[2.18,2.7],[2.11,2.5],[2.15,2.3],[2.19,2.1],[2.13,2.0],[2.17,1.8],[2.12,1.6],[2.16,1.5],[2.2,1.7],[2.14,3.8],[2.18,4.6],[2.16,2.8],
[2.24,20.8],[2.28,18.5],[2.22,17.0],[2.26,15.6],[2.3,14.5],[2.23,13.5],[2.27,12.6],[2.21,11.8],[2.25,11.0],[2.29,10.3],[2.22,9.6],[2.26,9.0],[2.3,8.4],[2.24,7.8],[2.28,7.3],[2.21,6.8],[2.25,6.3],[2.29,5.9],[2.23,5.5],[2.27,5.1],[2.21,4.7],[2.25,4.4],[2.29,4.1],[2.22,3.8],[2.26,3.5],[2.3,3.3],[2.24,3.0],[2.28,2.8],[2.21,2.6],[2.25,2.4],[2.29,2.2],[2.23,2.1],[2.27,1.9],[2.22,1.8],[2.26,4.0],[2.28,4.9],[2.24,5.6],[2.3,6.2],
[2.34,31.2],[2.32,24.0],[2.36,23.2],[2.38,20.5],[2.31,19.4],[2.35,17.7],[2.39,16.2],[2.33,15.0],[2.37,14.0],[2.31,13.1],[2.35,12.3],[2.39,11.5],[2.32,10.8],[2.36,10.1],[2.4,9.5],[2.34,8.9],[2.38,8.3],[2.31,7.8],[2.35,7.3],[2.39,6.8],[2.33,6.4],[2.37,6.0],[2.31,5.6],[2.35,5.2],[2.39,4.9],[2.32,4.6],[2.36,4.3],[2.4,4.0],[2.34,3.7],[2.38,3.5],[2.31,3.3],[2.35,3.1],[2.39,2.9],[2.33,2.7],[2.37,2.5],[2.32,2.3],[2.36,4.8],[2.38,5.5],[2.34,6.6],[2.4,6.1],
[2.45,27.5],[2.48,24.9],[2.42,22.0],[2.46,20.3],[2.5,18.8],[2.43,17.4],[2.47,16.1],[2.41,15.0],[2.45,14.0],[2.49,13.1],[2.42,12.3],[2.46,11.5],[2.5,10.8],[2.44,10.1],[2.48,9.5],[2.41,8.9],[2.45,8.4],[2.49,7.9],[2.43,7.4],[2.47,7.0],[2.41,6.6],[2.45,6.2],[2.49,5.9],[2.42,5.6],[2.46,5.3],[2.5,5.0],[2.44,4.7],[2.48,4.5],[2.41,4.3],[2.45,4.0],[2.49,3.8],[2.43,3.6],[2.47,3.4],[2.42,3.2],[2.46,6.8],[2.48,7.6],[2.44,5.4],
[2.52,31.2],[2.59,36.7],[2.55,28.0],[2.58,25.4],[2.51,23.6],[2.56,21.9],[2.54,20.4],[2.6,19.2],[2.53,17.9],[2.57,16.8],[2.51,15.8],[2.55,14.8],[2.59,13.9],[2.52,13.1],[2.56,12.3],[2.6,11.6],[2.54,10.9],[2.58,10.3],[2.51,9.7],[2.55,9.2],[2.59,8.7],[2.53,8.2],[2.57,7.8],[2.51,7.4],[2.55,7.0],[2.59,6.7],[2.52,6.3],[2.56,6.0],[2.6,5.7],[2.54,5.4],[2.58,5.1],[2.53,4.8],[2.57,4.6],[2.55,8.5],[2.58,9.0],
[2.67,35.7],[2.62,32.9],[2.7,33.5],[2.64,29.3],[2.68,26.8],[2.61,24.6],[2.66,23.0],[2.69,21.4],[2.63,20.0],[2.67,18.7],[2.61,17.5],[2.65,16.4],[2.69,15.4],[2.62,14.5],[2.66,13.6],[2.7,12.8],[2.64,12.0],[2.68,11.3],[2.61,10.7],[2.65,10.1],[2.69,9.5],[2.63,9.0],[2.67,8.5],[2.61,8.0],[2.65,7.6],[2.69,7.2],[2.62,6.8],[2.66,6.5],[2.7,6.2],[2.64,5.9],[2.68,5.6],[2.63,5.3],[2.67,10.5],[2.65,12.4],
[2.75,58.8],[2.76,42.5],[2.72,39.5],[2.74,37.4],[2.73,31.0],[2.77,28.4],[2.71,26.2],[2.78,23.1],[2.72,22.5],[2.75,20.6],[2.79,19.2],[2.73,18.0],[2.77,16.9],[2.71,15.9],[2.75,14.9],[2.79,14.0],[2.74,13.2],[2.78,12.4],[2.72,11.7],[2.76,11.0],[2.8,10.4],[2.73,9.8],[2.77,9.3],[2.71,8.8],[2.75,8.3],[2.79,7.9],[2.74,7.5],[2.78,7.1],[2.72,6.7],[2.76,6.4],[2.73,12.2],[2.77,15.5],
[2.85,49.0],[2.83,18.1],[2.81,20.0],[2.84,16.6],[2.82,15.2],[2.85,17.0],[2.81,13.8],[2.83,12.6],[2.82,11.2],[2.84,10.0],[2.81,9.0],[2.83,8.2],[2.82,14.5],
[2.015,1.4],[2.045,2.0],[2.075,1.6],[2.105,2.2],[2.135,1.8],[2.165,2.4],[2.195,2.0],[2.225,2.7],[2.255,2.2],[2.285,3.0],[2.315,2.6],[2.345,3.3],[2.375,2.9],[2.405,3.6],[2.435,3.1],[2.465,3.9],[2.495,3.5],[2.525,4.3],[2.555,4.0],[2.585,4.8],[2.615,4.5],[2.645,5.3],[2.675,5.0],[2.705,5.9],[2.735,5.6],[2.765,6.6],[2.05,2.8],[2.11,3.1],[2.17,3.6],[2.23,3.2],[2.29,4.4],[2.35,4.0],[2.41,4.9],[2.47,4.6],[2.53,5.6],[2.59,5.9],[2.65,6.9],[2.71,7.1],[2.77,8.0],[2.13,2.5],[2.27,2.6],[2.43,3.9],[2.57,5.2]
];

// ---------- rendering ----------
const FONT = '"Liberation Serif","Times New Roman","DejaVu Serif",serif';
const INK = '#111';
const mctx = document.createElement('canvas').getContext('2d');
function tw(s, fs){ mctx.font = fs + 'px ' + FONT; return mctx.measureText(s).width; }

// text element whose alphabetic baseline sits at local y = baseline
function txt(s, fs, x, baseline){
  return {type:'text', x:x, y:baseline - 0.34*fs,
    style:{text:s, font: fs+'px '+FONT, fill:INK, textAlign:'left', align:'left', textVerticalAlign:'middle', verticalAlign:'middle'}};
}
function rowParts(parts, x0, baseline){
  const out=[]; let x=x0;
  parts.forEach(p=>{ out.push(txt(p.t, p.fs, x, baseline + (p.dy||0))); x += tw(p.t, p.fs); });
  return {els: out, width: x - x0};
}
function rowWidth(parts){ return parts.reduce((a,p)=>a+tw(p.t,p.fs),0); }

function yTitle(gx){
  return {type:'group', x:gx, y:263, rotation:Math.PI/2, silent:true, children:[
    txt('\u03C3', 38, 0, 37),
    txt('Ereignis', 21, 30, 46),
    txt('( \u1E91 ) [ \u03BCm ]', 30, 109, 36)
  ]};
}
const ptTitleParts = [{t:'transversaler Impuls p',fs:31},{t:'t',fs:20,dy:10},{t:' [ GeV/c ]',fs:31}];
const thTitleParts = [{t:'Polarwinkel \u03B8',fs:31},{t:'0',fs:20,dy:10},{t:' [ rad ]',fs:31}];
const ptTitle = rowParts(ptTitleParts, 43, 455);
const thTitle = rowParts(thTitleParts, 950 - rowWidth(thTitleParts), 455);

const axisLineStyle = {color:'#222', width:1.3};
const tickStyle = {color:'#444', width:1.2};
const labelStyle = {fontFamily:FONT, fontSize:30, color:INK};

function sigmaAxis(gridIndex){
  return {type:'value', gridIndex, min:0, max:70, interval:10, position:'left',
    axisLine:{show:true, onZero:false, lineStyle:axisLineStyle},
    axisTick:{show:true, inside:false, length:23, lineStyle:tickStyle},
    axisLabel:{...labelStyle, margin:33, customValues:sigmaTicks},
    splitLine:{show:false}};
}
function frameX(gridIndex){
  return {type:'value', gridIndex, position:'top', min:0, max:1,
    axisLine:{show:true, onZero:false, lineStyle:axisLineStyle}, axisTick:{show:false}, axisLabel:{show:false}, splitLine:{show:false}};
}

const chart = echarts.init(document.getElementById('c'), null, {renderer:'canvas'});
const dot = {symbol:'rect', symbolSize:2.1, itemStyle:{color:'#000'}, silent:true, large:false, animation:false};

chart.setOption({
  animation:false,
  backgroundColor:'#fff',
  grid:[
    {left:123, top:21, width:340, height:338},
    {left:614, top:21, width:339, height:338}
  ],
  xAxis:[
    {type:'value', gridIndex:0, min:0, max:10, interval:2.5, position:'bottom',
      axisLine:{show:true, onZero:false, lineStyle:axisLineStyle},
      axisTick:{show:true, length:15, lineStyle:tickStyle},
      axisLabel:{...labelStyle, margin:30, customValues:ptTicks},
      splitLine:{show:false}},
    {type:'value', gridIndex:1, min:0, max:3.2, position:'bottom',
      axisLine:{show:true, onZero:false, lineStyle:axisLineStyle},
      axisTick:{show:true, length:15, lineStyle:tickStyle, customValues:thetaTicks},
      axisLabel:{...labelStyle, margin:30, customValues:thetaTicks},
      splitLine:{show:false}},
    frameX(0), frameX(1)
  ],
  yAxis:[
    sigmaAxis(0), sigmaAxis(1),
    {type:'value', gridIndex:0, position:'right', min:0, max:1,
      axisLine:{show:true, onZero:false, lineStyle:axisLineStyle}, axisTick:{show:false}, axisLabel:{show:false}, splitLine:{show:false}}
  ],
  series:[
    {type:'scatter', xAxisIndex:0, yAxisIndex:0, data:ptSigmaSteep, ...dot},
    {type:'scatter', xAxisIndex:0, yAxisIndex:0, data:ptSigmaLow, ...dot},
    {type:'scatter', xAxisIndex:0, yAxisIndex:0, data:ptSigmaMid, ...dot},
    {type:'scatter', xAxisIndex:0, yAxisIndex:0, data:ptSigmaHigh, ...dot},
    {type:'scatter', xAxisIndex:1, yAxisIndex:1, data:thetaSigmaForward, ...dot},
    {type:'scatter', xAxisIndex:1, yAxisIndex:1, data:thetaSigmaCentral, ...dot},
    {type:'scatter', xAxisIndex:1, yAxisIndex:1, data:thetaSigmaBackward, ...dot}
  ],
  graphic:[
    yTitle(0), yTitle(491),
    {type:'group', silent:true, children: ptTitle.els},
    {type:'group', silent:true, children: thTitle.els}
  ]
});
</script>
</body></html>
